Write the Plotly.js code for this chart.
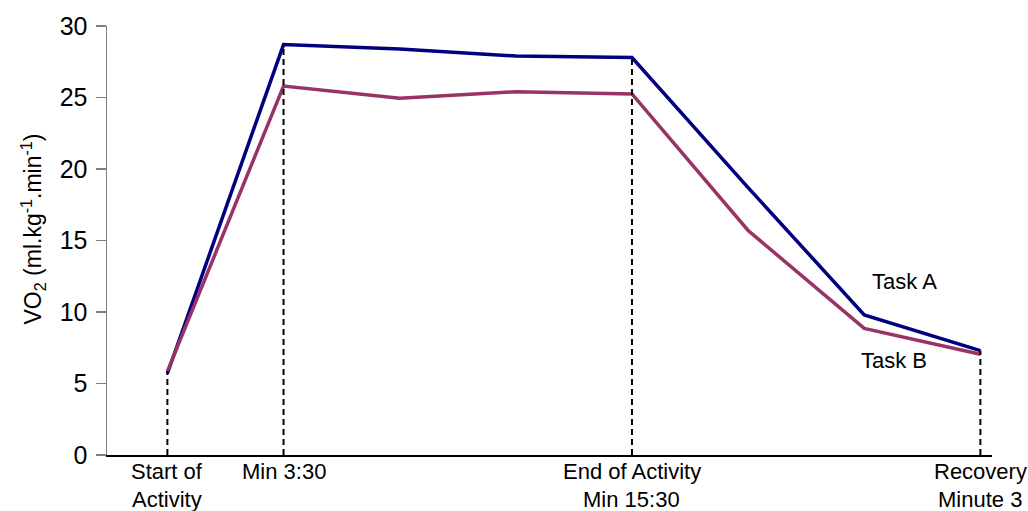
<!DOCTYPE html>
<html>
<head>
<meta charset="utf-8">
<script src="https://cdn.plot.ly/plotly-3.0.1.min.js"></script>
<style>html,body{margin:0;padding:0;background:#fff;}#chart{width:1028px;height:511px;}</style>
</head>
<body>
<div id="chart"></div>
<script>
// ---- data ----
const xIndex = [0, 1, 2, 3, 4, 5, 6, 7];
const taskA = [5.7, 28.7, 28.4, 27.9, 27.8, 18.7, 9.8, 7.3];
const taskB = [5.85, 25.8, 24.95, 25.4, 25.25, 15.7, 8.85, 7.05];
const seriesNames = ['Task A', 'Task B'];
const tickPositions = [0, 1, 4, 7];
const tickLine1 = ['Start of', 'Min 3:30', 'End of Activity', 'Recovery'];
const tickLine2 = ['Activity', '', 'Min 15:30', 'Minute 3'];
const yTicks = [0, 5, 10, 15, 20, 25, 30];
const yTitle = 'VO<sub>2</sub> (ml.kg<sup>-1</sup>.min<sup>-1</sup>)';

const FONT = 'Liberation Sans, Arial, sans-serif';

const traces = [
  {x: xIndex, y: taskA, type: 'scatter', mode: 'lines', name: seriesNames[0],
   line: {color: '#000080', width: 3.5}, hoverinfo: 'skip'},
  {x: xIndex, y: taskB, type: 'scatter', mode: 'lines', name: seriesNames[1],
   line: {color: '#993366', width: 3.5}, hoverinfo: 'skip'}
];
// dashed drop lines from the labelled points to the x axis
tickPositions.forEach(p => {
  const i = xIndex.indexOf(p);
  traces.push({x: [p, p], y: [0, Math.max(taskA[i], taskB[i])], type: 'scatter', mode: 'lines',
    line: {color: '#000000', width: 2, dash: '6px,4px'}, hoverinfo: 'skip', showlegend: false});
});

const annotations = [];
tickPositions.forEach((p, k) => {
  annotations.push({x: p, y: 0, xref: 'x', yref: 'paper', text: tickLine1[k], showarrow: false,
    xanchor: 'center', yanchor: 'middle', yshift: -16, font: {family: FONT, size: 22, color: '#000'}});
  if (tickLine2[k]) annotations.push({x: p, y: 0, xref: 'x', yref: 'paper', text: tickLine2[k], showarrow: false,
    xanchor: 'center', yanchor: 'middle', yshift: -44, font: {family: FONT, size: 22, color: '#000'}});
});
// series labels
annotations.push({x: 6.35, y: 12.1, xref: 'x', yref: 'y', text: seriesNames[0], showarrow: false,
  xanchor: 'center', yanchor: 'middle', font: {family: FONT, size: 22, color: '#000'}});
annotations.push({x: 6.26, y: 6.6, xref: 'x', yref: 'y', text: seriesNames[1], showarrow: false,
  xanchor: 'center', yanchor: 'middle', font: {family: FONT, size: 22, color: '#000'}});
// y axis title
annotations.push({x: 0, y: 0.5, xref: 'paper', yref: 'paper', xshift: -75, yshift: 11, textangle: -90,
  text: yTitle, showarrow: false, xanchor: 'center', yanchor: 'middle',
  font: {family: FONT, size: 23, color: '#000'}});

const layout = {
  width: 1028, height: 511,
  margin: {l: 107, r: 36, t: 26, b: 56, pad: 0},
  paper_bgcolor: '#ffffff', plot_bgcolor: '#ffffff',
  showlegend: false,
  font: {family: FONT, color: '#000'},
  xaxis: {range: [-0.52, 7.1], showgrid: false, zeroline: false, showticklabels: false,
    ticks: '', showline: true, linecolor: '#000000', linewidth: 2, fixedrange: true},
  yaxis: {range: [0, 30], tickvals: yTicks, showgrid: false, zeroline: false,
    ticks: 'outside', ticklen: 10, tickcolor: '#808080', tickwidth: 1.5,
    showline: true, linecolor: '#808080', linewidth: 1.5, ticklabelstandoff: 3,
    tickfont: {family: FONT, size: 25, color: '#000'},
    fixedrange: true},
  annotations: annotations
};

Plotly.newPlot('chart', traces, layout, {displayModeBar: false, staticPlot: true});
</script>
</body>
</html>
